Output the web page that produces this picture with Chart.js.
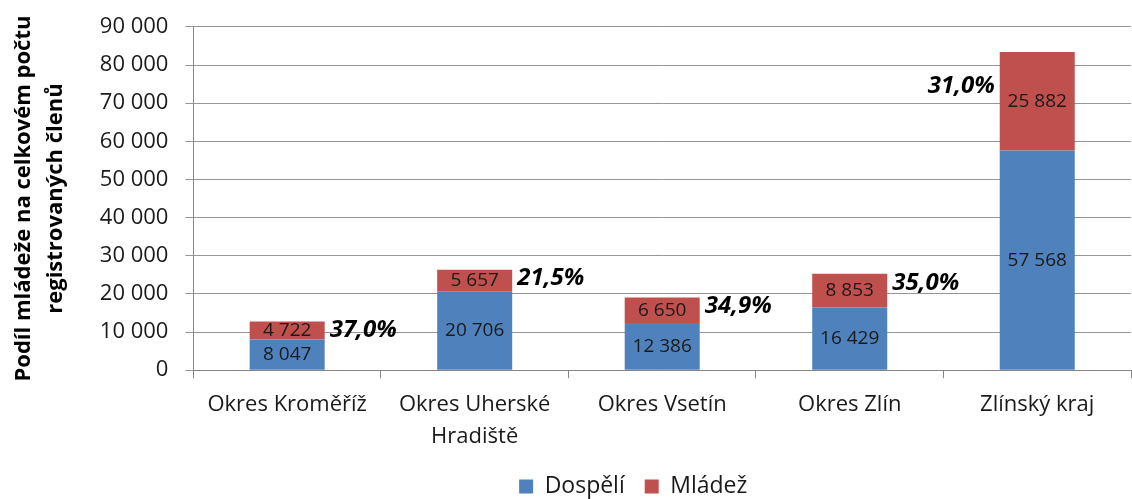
<!DOCTYPE html>
<html>
<head>
<meta charset="utf-8">
<script src="https://cdn.jsdelivr.net/npm/chart.js@4.4.1/dist/chart.umd.min.js"></script>
<style>
  html, body { margin: 0; padding: 0; background: #fff; }
  #wrap { width: 1132px; height: 499px; }
</style>
</head>
<body>
<div id="wrap"><canvas id="graf" width="1132" height="499"></canvas></div>
<script>
// Data z grafu
const okresy = [['Okres Kroměříž'], ['Okres Uherské', 'Hradiště'], ['Okres Vsetín'], ['Okres Zlín'], ['Zlínský kraj']];
const dospeli = [8047, 20706, 12386, 16429, 57568];
const mladez = [4722, 5657, 6650, 8853, 25882];
const podilMladeze = ['37,0%', '21,5%', '34,9%', '35,0%', '31,0%'];
const osaY = [0, 10000, 20000, 30000, 40000, 50000, 60000, 70000, 80000, 90000];

const PISMO = "'Open Sans', 'Liberation Sans', sans-serif";

function formatCislo(n) {
  return String(n).replace(/\B(?=(\d{3})+(?!\d))/g, ' ');
}

// Popisky hodnot uvnitř sloupců + podíl mládeže
const popisky = {
  id: 'popisky',
  afterLayout(chart) {
    // legenda je v originále trochu vlevo od středu plochy grafu
    chart.legend.left -= 29;
    chart.legend.right -= 29;
  },
  afterDatasetsDraw(chart) {
    const ctx = chart.ctx;
    ctx.save();
    ctx.textAlign = 'center';
    ctx.textBaseline = 'middle';
    ctx.fillStyle = '#1a1a1a';
    ctx.font = '19px ' + PISMO;
    chart.data.datasets.forEach((ds, i) => {
      chart.getDatasetMeta(i).data.forEach((bar, j) => {
        const stred = (bar.y + bar.base) / 2;
        ctx.fillText(formatCislo(ds.data[j]), bar.x, stred);
      });
    });

    // podíl mládeže u horní hrany sloupce
    const horni = chart.getDatasetMeta(1).data;
    ctx.font = 'italic bold 24px ' + PISMO;
    ctx.fillStyle = '#000';
    horni.forEach((bar, j) => {
      const sirka = bar.width / 2;
      if (j === horni.length - 1) {
        ctx.textAlign = 'right';
        ctx.fillText(podilMladeze[j], bar.x - sirka - 5, bar.y + 34);
      } else {
        ctx.textAlign = 'left';
        ctx.fillText(podilMladeze[j], bar.x + sirka + 5, bar.y + 9);
      }
    });
    ctx.restore();
  }
};

new Chart(document.getElementById('graf').getContext('2d'), {
  type: 'bar',
  data: {
    labels: okresy,
    datasets: [
      { label: 'Dospělí', data: dospeli, backgroundColor: '#4f81bd', barPercentage: 0.4, categoryPercentage: 1 },
      { label: 'Mládež', data: mladez, backgroundColor: '#c0504d', barPercentage: 0.4, categoryPercentage: 1 }
    ]
  },
  options: {
    responsive: false,
    animation: false,
    layout: { padding: { top: 8, right: 1, left: 8, bottom: 0 } },
    plugins: {
      legend: {
        position: 'bottom',
        fullSize: false,
        maxHeight: 44,
        labels: {
          font: { family: PISMO, size: 23 },
          color: '#1a1a1a',
          boxWidth: 14,
          boxHeight: 14,
          padding: 20
        }
      },
      tooltip: { enabled: false }
    },
    scales: {
      x: {
        stacked: true,
        grid: { offset: true, drawOnChartArea: false, color: '#868686', tickLength: 8 },
        border: { color: '#868686' },
        ticks: { font: { family: PISMO, size: 22, lineHeight: 1.45 }, color: '#1a1a1a', padding: 11 },
        afterFit: s => { s.height -= 9; }
      },
      y: {
        stacked: true,
        min: osaY[0],
        max: osaY[osaY.length - 1],
        afterBuildTicks: axis => { axis.ticks = osaY.map(v => ({ value: v })); },
        grid: { color: '#969696', tickLength: 8 },
        border: { color: '#868686' },
        ticks: {
          font: { family: PISMO, size: 22, lineHeight: 0.9 },
          color: '#1a1a1a',
          padding: 17,
          callback: v => formatCislo(v)
        },
        title: {
          display: true,
          text: ['Podíl mládeže na celkovém počtu', 'registrovaných členů'],
          font: { family: PISMO, size: 22, weight: 'bold', lineHeight: 1.45 },
          color: '#000',
          padding: { top: 0, bottom: 11 }
        }
      }
    }
  },
  plugins: [popisky]
});
</script>
</body>
</html>
